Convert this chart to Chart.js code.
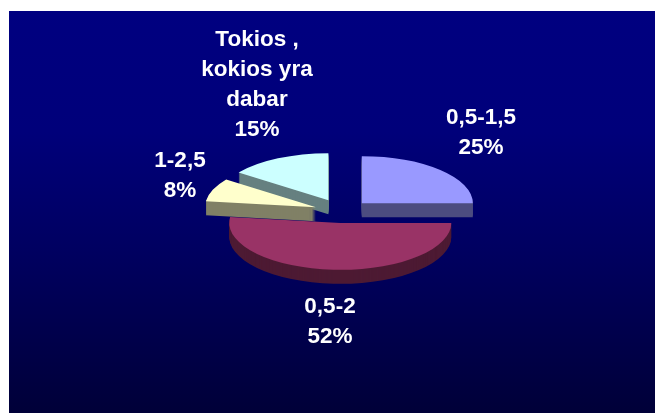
<!DOCTYPE html>
<html lang="en">
<head>
    <meta charset="UTF-8">
    <title>Pie</title>
    <style>
        html, body { margin: 0; padding: 0; background: #fff; }
        #wrap { position: absolute; left: 0; top: 0; width: 655px; height: 413px; }
    </style>
    <script src="https://cdn.jsdelivr.net/npm/chart.js"></script>
</head>
<body>
    <div id="wrap"><canvas id="pie"></canvas></div>

    <script>
        // Data
        const categories = [['0,5-1,5'], ['0,5-2'], ['1-2,5'], ['Tokios ,', 'kokios yra', 'dabar']];
        const values = [25, 52, 8, 15];

        // Styles
        const topColors = ['#9999ff', '#993366', '#ffffcc', '#ccffff'];
        const sideColors = ['#4d4d80', '#4d1a33', '#808066', '#668080'];
        const drawOrder = [1, 0, 3, 2]; // back to front
        const labelAnchors = [[481, 124], [330, 313], [180, 167], [257, 46]];
        const labelGap = 30;
        const explode = [28, 27, 28, 30];
        const squash = 0.423;
        const depth = 14;

        // Flattens the pie, pulls slices out and gives them a side wall
        const pie3d = {
            id: 'pie3d',
            beforeDraw(chart) {
                const ctx = chart.ctx;
                const g = ctx.createLinearGradient(0, 11, 0, 413);
                g.addColorStop(0, '#000080');
                g.addColorStop(0.3, '#00007a');
                g.addColorStop(0.6, '#000060');
                g.addColorStop(1, '#000038');
                ctx.save();
                ctx.fillStyle = g;
                ctx.fillRect(9, 11, 646, 402);
                ctx.restore();
            },
            beforeDatasetsDraw(chart) {
                const ctx = chart.ctx;
                const arcs = chart.getDatasetMeta(0).data;
                drawOrder.forEach(i => {
                    const arc = arcs[i];
                    const topOptions = arc.options;
                    const mid = (arc.startAngle + arc.endAngle) / 2;
                    const dx = Math.cos(mid) * explode[i];
                    const dy = Math.sin(mid) * explode[i] * squash;
                    for (let d = depth; d >= 0; d--) {
                        arc.options = Object.assign({}, topOptions, {
                            backgroundColor: d === 0 ? topColors[i] : sideColors[i]
                        });
                        ctx.save();
                        ctx.translate(arc.x + dx, arc.y + dy + d);
                        ctx.scale(1, squash);
                        ctx.translate(-arc.x, -arc.y);
                        arc.draw(ctx);
                        ctx.restore();
                    }
                    arc.options = topOptions;
                });
                return false;
            },
            afterDraw(chart) {
                const ctx = chart.ctx;
                ctx.save();
                ctx.fillStyle = '#fff';
                ctx.font = 'bold 22.5px "Liberation Sans", Arial, sans-serif';
                ctx.textAlign = 'center';
                ctx.textBaseline = 'alphabetic';
                categories.forEach((lines, i) => {
                    const [x, y] = labelAnchors[i];
                    lines.concat(values[i] + '%').forEach((text, n) => {
                        ctx.fillText(text, x, y + n * labelGap);
                    });
                });
                ctx.restore();
            }
        };

        new Chart(document.getElementById('pie').getContext('2d'), {
            type: 'pie',
            data: {
                labels: categories.map(c => c.join(' ')),
                datasets: [{
                    data: values,
                    backgroundColor: topColors,
                    borderWidth: 0
                }]
            },
            options: {
                responsive: true,
                maintainAspectRatio: false,
                animation: false,
                radius: 111,
                layout: { padding: { left: 29, top: 10 } },
                plugins: { legend: { display: false }, tooltip: { enabled: false } }
            },
            plugins: [pie3d]
        });
    </script>
</body>
</html>
